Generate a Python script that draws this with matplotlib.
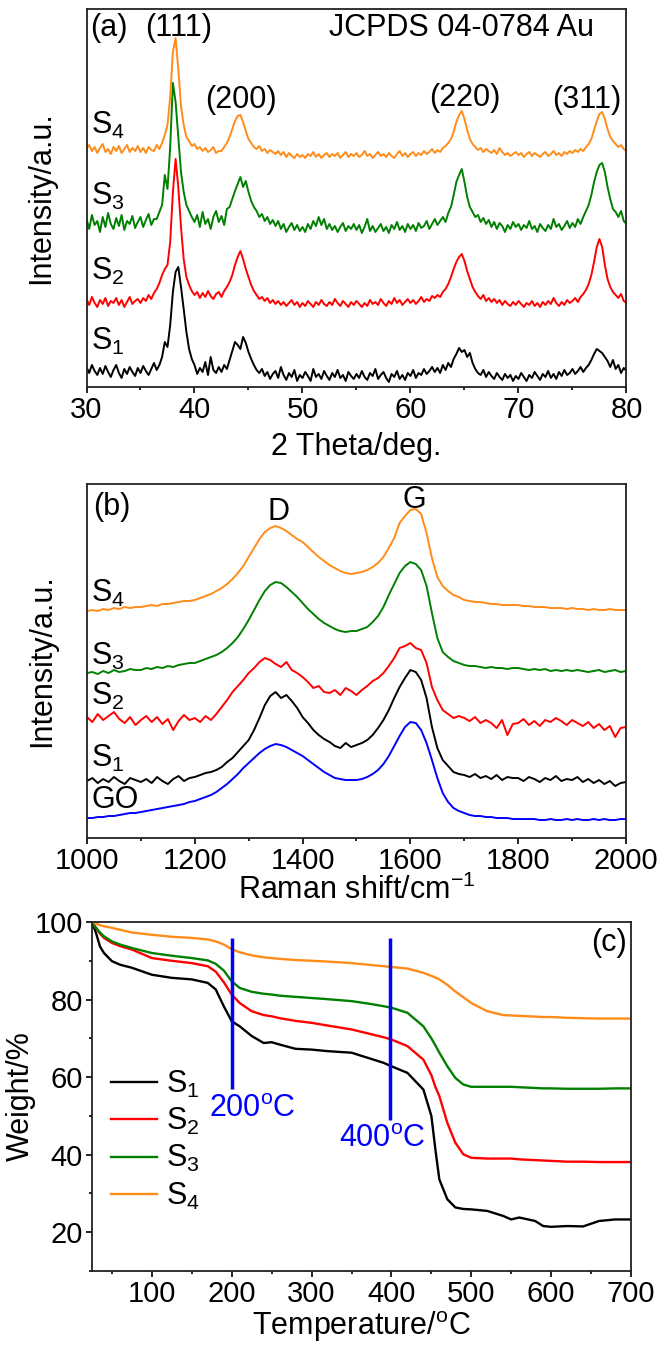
import numpy as np
import matplotlib
matplotlib.use('Agg')
import matplotlib.pyplot as plt
from matplotlib.ticker import MultipleLocator

plt.rcParams['font.family'] = ['Liberation Sans', 'DejaVu Sans']
plt.rcParams['mathtext.fontset'] = 'custom'
plt.rcParams['mathtext.rm'] = 'Liberation Sans'
plt.rcParams['mathtext.it'] = 'Liberation Sans'
plt.rcParams['mathtext.bf'] = 'Liberation Sans'

# ---------------- (a) XRD, 2theta 30..80 step 0.25, intensity in offset units
two_theta = np.linspace(30, 80, 201)
xrd_s4 = [238, 242, 236, 240, 234, 239, 243, 235, 238, 233,
          240, 236, 241, 234, 238, 242, 235, 239, 236, 241,
          235, 239, 234, 240, 237, 236, 242, 238, 244, 252,
          262, 290, 335, 349, 318, 281, 262, 250, 246, 241,
          243, 238, 240, 236, 239, 235, 237, 240, 234, 236,
          236, 240, 244, 250, 258, 266, 271, 272, 265, 256,
          248, 244, 240, 238, 241, 236, 238, 234, 237, 235,
          233, 236, 232, 235, 230, 234, 231, 229, 233, 230,
          232, 229, 233, 231, 235, 230, 233, 229, 232, 234,
          230, 233, 231, 234, 229, 232, 235, 230, 233, 231,
          234, 230, 232, 236, 231, 233, 229, 232, 235, 231,
          233, 230, 234, 231, 229, 233, 236, 231, 234, 230,
          233, 235, 231, 234, 232, 236, 233, 235, 238, 234,
          237, 235, 239, 241, 244, 248, 255, 265, 272, 276,
          268, 257, 248, 243, 240, 237, 239, 235, 238, 236,
          234, 237, 233, 239, 235, 232, 234, 231, 233, 235,
          232, 234, 230, 233, 235, 231, 234, 232, 230, 233,
          235, 231, 233, 236, 232, 234, 231, 235, 233, 236,
          234, 237, 235, 238, 236, 240, 243, 248, 257, 266,
          273, 275, 268, 258, 250, 246, 243, 240, 242, 238,
          236]
xrd_s3 = [168, 158, 172, 162, 166, 155, 170, 160, 174, 163,
          158, 169, 161, 172, 157, 166, 163, 171, 159, 165,
          170, 160, 167, 173, 162, 168, 168, 175, 182, 212,
          198, 240, 304, 285, 250, 215, 195, 182, 176, 170,
          165, 172, 160, 175, 163, 168, 158, 170, 176, 165,
          171, 162, 178, 180, 188, 196, 203, 210, 200, 206,
          195, 186, 180, 176, 170, 173, 166, 170, 163, 167,
          161, 166, 158, 163, 155, 160, 164, 157, 162, 156,
          160, 155, 163, 158, 166, 161, 170, 162, 168, 158,
          163, 157, 161, 155, 160, 164, 156, 161, 158, 163,
          157, 162, 154, 160, 168, 156, 161, 155, 159, 163,
          156, 160, 154, 162, 158, 165, 157, 161, 155, 163,
          158, 162, 156, 164, 159, 161, 166, 158, 163, 168,
          162, 166, 170, 165, 174, 180, 192, 205, 212, 218,
          205, 190, 180, 175, 170, 172, 165, 169, 163, 167,
          160, 165, 158, 164, 161, 155, 162, 158, 165, 160,
          163, 157, 162, 159, 166, 158, 161, 155, 163, 159,
          156, 162, 158, 168, 160, 163, 157, 161, 166, 159,
          164, 160, 168, 163, 170, 176, 182, 192, 205, 215,
          222, 224, 215, 200, 188, 178, 175, 170, 176, 166,
          163]
xrd_s2 = [88, 82, 90, 84, 80, 87, 83, 89, 81, 86,
          84, 89, 82, 87, 80, 85, 90, 83, 86, 88,
          84, 89, 86, 92, 88, 94, 98, 104, 112, 118,
          122, 145, 195, 228, 200, 160, 128, 110, 102, 96,
          92, 95, 89, 94, 90, 96, 91, 88, 93, 95,
          90, 96, 100, 105, 112, 122, 130, 136, 128, 118,
          110, 102, 96, 92, 88, 90, 86, 89, 84, 87,
          83, 86, 82, 85, 81, 84, 87, 82, 85, 80,
          84, 81, 86, 83, 80, 85, 82, 87, 83, 81,
          85, 82, 88, 84, 81, 86, 83, 80, 85, 82,
          86, 83, 80, 84, 81, 87, 83, 85, 82, 88,
          84, 81, 86, 83, 89, 84, 87, 82, 85, 88,
          84, 87, 83, 86, 90, 85, 88, 86, 91, 89,
          92, 90, 95, 98, 103, 110, 118, 125, 130, 133,
          126, 116, 108, 100, 95, 91, 88, 92, 86, 89,
          85, 88, 84, 87, 82, 86, 83, 81, 85, 82,
          86, 83, 80, 84, 82, 86, 81, 84, 80, 85,
          82, 86, 83, 89, 84, 81, 85, 82, 87, 84,
          86, 89, 85, 90, 93, 97, 103, 112, 125, 140,
          148, 140, 122, 108, 100, 95, 92, 89, 93, 86,
          84]
xrd_s1 = [20, 14, 22, 16, 12, 19, 13, 21, 15, 10,
          17, 22, 14, 9, 18, 13, 20, 15, 11, 19,
          14, 21, 16, 12, 18, 24, 17, 22, 30, 45,
          40, 62, 95, 115, 120, 100, 78, 55, 38, 28,
          22, 13, 19, 15, 25, 12, 30, 17, 14, 20,
          15, 22, 18, 27, 36, 45, 42, 38, 50, 44,
          35, 28, 22, 17, 14, 18, 11, 15, 8, 13,
          16, 9, 20, 12, 7, 14, 10, 17, 6, 12,
          9, 15, 11, 6, 18, 10, 13, 8, 16, 11,
          7, 14, 10, 17, 9, 12, 6, 15, 11, 8,
          13, 9, 16, 10, 7, 14, 11, 18, 8, 12,
          15, 9, 5, 13, 10, 16, 8, 12, 7, 14,
          11, 17, 9, 14, 12, 18, 13, 16, 20, 15,
          19, 14, 22, 17, 24, 20, 28, 33, 39, 35,
          37, 30, 34, 24, 18, 14, 12, 17, 10, 15,
          11, 8, 14, 10, 7, 13, 9, 12, 6, 11,
          8, 14, 10, 6, 12, 9, 15, 11, 7, 13,
          10, 16, 9, 13, 8, 15, 11, 17, 12, 14,
          18, 13, 16, 20, 15, 19, 22, 27, 33, 38,
          36, 34, 30, 26, 20, 27, 18, 22, 14, 19,
          16]

# ---------------- (b) Raman, 1000..2000 step 10
raman_shift = np.linspace(1000, 2000, 101)
raman_go = [20, 20, 21, 21, 22, 22, 23, 24, 25, 25,
            26, 27, 28, 29, 30, 31, 32, 33, 34, 36,
            37, 39, 41, 43, 46, 50, 54, 59, 64, 70,
            75, 80, 85, 89, 92, 94, 93, 91, 88, 85,
            82, 78, 74, 70, 66, 63, 60, 59, 58, 58,
            58, 59, 61, 64, 68, 74, 82, 92, 102, 111,
            116, 115, 108, 95, 78, 60, 45, 36, 30, 27,
            25, 23, 22, 22, 21, 21, 20, 20, 20, 19,
            19, 19, 19, 19, 18, 18, 19, 18, 18, 19,
            18, 19, 18, 18, 19, 18, 19, 18, 18, 19, 19]
raman_s1 = [57, 60, 55, 59, 56, 61, 57, 54, 60, 58,
            56, 59, 55, 61, 57, 54, 59, 62, 57, 60,
            61, 63, 65, 66, 68, 71, 76, 80, 86, 92,
            98, 108, 120, 133, 142, 146, 140, 143, 137, 130,
            121, 115, 108, 103, 99, 96, 92, 90, 95, 91,
            93, 95, 98, 103, 110, 118, 128, 140, 151, 160,
            168, 166, 158, 140, 111, 90, 78, 72, 66, 64,
            63, 61, 64, 60, 62, 59, 63, 58, 61, 60,
            60, 57, 61, 59, 56, 60, 58, 62, 57, 59,
            58, 61, 56, 59, 55, 58, 54, 57, 52, 55, 56]
raman_s2 = [121, 116, 124, 118, 122, 126, 119, 115, 121, 113,
            118, 122, 116, 121, 114, 119, 108, 117, 123, 118,
            120, 116, 122, 118, 124, 131, 138, 146, 152, 158,
            165, 170, 176, 180, 178, 174, 171, 176, 168, 165,
            161, 156, 150, 152, 146, 145, 148, 143, 150, 147,
            143, 148, 152, 157, 160, 165, 172, 180, 190, 192,
            195, 190, 188, 175, 151, 138, 128, 124, 120, 122,
            120, 117, 121, 115, 118, 115, 110, 118, 103, 114,
            115, 119, 113, 117, 112, 118, 116, 120, 117, 113,
            118, 115, 112, 116, 110, 114, 108, 112, 101, 110, 111]
raman_s3 = [165, 166, 164, 167, 165, 168, 166, 167, 169, 168,
            168, 170, 169, 171, 170, 172, 171, 173, 174, 175,
            175, 177, 179, 181, 183, 186, 190, 195, 201, 209,
            218, 228, 238, 247, 253, 256, 255, 251, 246, 241,
            235, 229, 224, 219, 215, 212, 209, 207, 206, 207,
            207, 209, 211, 216, 222, 231, 243, 254, 265, 272,
            276, 274, 268, 252, 225, 200, 186, 181, 177, 175,
            173, 172, 172, 171, 170, 171, 170, 170, 169, 170,
            170, 169, 168, 169, 168, 169, 167, 168, 167, 168,
            167, 168, 167, 166, 167, 168, 166, 167, 168, 166, 167]
raman_s4 = [227, 228, 227, 229, 228, 230, 229, 231, 230, 231,
            231, 232, 233, 232, 234, 234, 235, 236, 237, 237,
            238, 240, 242, 244, 247, 250, 254, 259, 265, 272,
            281, 290, 299, 306, 310, 312, 310, 307, 303, 299,
            296, 291, 286, 281, 277, 273, 270, 267, 265, 264,
            265, 266, 268, 271, 275, 281, 290, 300, 315, 322,
            328, 329, 324, 305, 280, 261, 252, 247, 243, 241,
            238, 237, 236, 236, 235, 234, 234, 233, 233, 233,
            233, 232, 232, 231, 231, 231, 230, 230, 230, 229,
            230, 229, 229, 228, 229, 228, 228, 229, 228, 228, 228]

# ---------------- (c) TGA
temp = [25, 30, 35, 40, 50, 60, 75, 100, 125, 150, 170, 180, 190, 200, 210,
        225, 240, 250, 260, 280, 300, 320, 350, 370, 390, 400, 420, 440, 450,
        455, 460, 470, 480, 490, 500, 520, 540, 550, 560, 580, 590, 600, 620,
        640, 660, 680, 700]
tga_s1 = [100, 97.2, 93.7, 92.0, 89.9, 89.0, 88.2, 86.4, 85.6, 85.2, 84.3, 82.6,
          78.3, 74.4, 73.1, 70.6, 68.8, 69.0, 68.4, 67.3, 67.1, 66.7, 66.3, 65.0,
          63.7, 62.8, 61.1, 56.8, 50.0, 41.4, 33.6, 28.5, 26.4, 26.0, 25.9, 25.5,
          24.2, 23.3, 23.8, 22.9, 21.6, 21.4, 21.6, 21.5, 22.9, 23.3, 23.3]
tga_s2 = [100, 98.5, 97.0, 95.9, 94.6, 93.8, 92.9, 90.7, 90.0, 89.4, 88.6, 87.2,
          84.5, 81.3, 79.1, 77.0, 76.0, 75.7, 75.2, 74.5, 74.0, 73.3, 72.3, 71.3,
          70.3, 69.7, 68.0, 64.5, 60.5, 57.5, 55.1, 48.2, 43.1, 40.1, 39.2, 39.0,
          39.0, 39.0, 38.8, 38.6, 38.5, 38.4, 38.2, 38.2, 38.1, 38.1, 38.1]
tga_s3 = [100, 98.5, 97.3, 96.3, 95.0, 94.2, 93.3, 92.0, 91.3, 90.7, 90.1, 89.2,
          87.5, 84.7, 83.0, 82.0, 81.5, 81.3, 81.0, 80.7, 80.4, 80.1, 79.6, 79.0,
          78.3, 77.9, 76.6, 73.1, 70.0, 68.2, 66.3, 62.8, 59.8, 58.1, 57.5, 57.5,
          57.5, 57.5, 57.4, 57.2, 57.1, 57.1, 57.0, 57.0, 57.0, 57.1, 57.1]
tga_s4 = [100, 99.6, 99.2, 98.9, 98.5, 98.0, 97.3, 96.7, 96.2, 95.9, 95.5, 95.0,
          94.2, 93.0, 92.2, 91.4, 90.9, 90.7, 90.5, 90.2, 90.0, 89.8, 89.4, 89.0,
          88.6, 88.4, 88.0, 86.9, 86.1, 85.7, 85.2, 83.8, 82.1, 80.6, 79.1, 77.0,
          76.0, 75.9, 75.8, 75.6, 75.5, 75.5, 75.3, 75.2, 75.1, 75.1, 75.1]
mark_temps = [200, 398]
mark_top = [96, 96]
mark_bottom = [57, 49]

colors = {'S1': 'black', 'S2': '#ff0000', 'S3': '#008000', 'S4': '#ff8c1a', 'GO': '#0000ff'}
FS = 22
TFS = 21
LW = 1.4


def style(ax):
    for sp in ax.spines.values():
        sp.set_linewidth(1.3)
        sp.set_color('#222222')
    ax.tick_params(axis='both', which='major', direction='out', length=4.5, width=1.2,
                   labelsize=TFS, pad=2, top=False, right=False)
    ax.tick_params(axis='both', which='minor', direction='out', length=2.5, width=1.2,
                   top=False, right=False)


def put_xlabel(ax, text, ybase):
    # place x label by its baseline, in axes fraction
    ax.set_xlabel(text, fontsize=FS)
    ax.xaxis.label.set_va('baseline')
    ax.xaxis.set_label_coords(0.5, ybase)


fig = plt.figure(figsize=(6.69, 13.46), dpi=100)

# (a)
ax1 = fig.add_axes([0.1293, 0.7125, 0.8071, 0.2808])
ax1.plot(two_theta, xrd_s1, color=colors['S1'], lw=LW)
ax1.plot(two_theta, xrd_s2, color=colors['S2'], lw=LW)
ax1.plot(two_theta, xrd_s3, color=colors['S3'], lw=LW)
ax1.plot(two_theta, xrd_s4, color=colors['S4'], lw=LW)
ax1.set_xlim(30, 80)
ax1.set_ylim(0, 378)
ax1.set_yticks([])
ax1.xaxis.set_major_locator(MultipleLocator(10))
ax1.xaxis.set_minor_locator(MultipleLocator(5))
style(ax1)
put_xlabel(ax1, '2 Theta/deg.', -0.18)
ax1.set_ylabel('Intensity/a.u.', fontsize=FS)
ax1.yaxis.set_label_coords(-0.056, 0.5)
ax1.text(32.1, 359, '(a)', fontsize=FS, ha='center', va='center')
ax1.text(38.5, 359, '(111)', fontsize=FS, ha='center', va='center')
ax1.text(64.7, 359, 'JCPDS 04-0784 Au', fontsize=FS, ha='center', va='center')
ax1.text(44.3, 287, '(200)', fontsize=FS, ha='center', va='center')
ax1.text(65.0, 289, '(220)', fontsize=FS, ha='center', va='center')
ax1.text(76.3, 287, '(311)', fontsize=FS, ha='center', va='center')
for lab, yy in [('S$_4$', 262), ('S$_3$', 191), ('S$_2$', 116), ('S$_1$', 46)]:
    ax1.text(30.45, yy, lab, fontsize=FS, ha='left', va='center')

# (b)
ax2 = fig.add_axes([0.1300, 0.3774, 0.8057, 0.2630])
ax2.plot(raman_shift, raman_go, color=colors['GO'], lw=LW)
ax2.plot(raman_shift, raman_s1, color=colors['S1'], lw=LW)
ax2.plot(raman_shift, raman_s2, color=colors['S2'], lw=LW)
ax2.plot(raman_shift, raman_s3, color=colors['S3'], lw=LW)
ax2.plot(raman_shift, raman_s4, color=colors['S4'], lw=LW)
ax2.set_xlim(1000, 2000)
ax2.set_ylim(0, 354)
ax2.set_yticks([])
ax2.xaxis.set_major_locator(MultipleLocator(200))
ax2.xaxis.set_minor_locator(MultipleLocator(100))
style(ax2)
put_xlabel(ax2, 'Raman shift/cm$^{-1}$', -0.172)
ax2.set_ylabel('Intensity/a.u.', fontsize=FS)
ax2.yaxis.set_label_coords(-0.056, 0.5)
ax2.text(1046, 331, '(b)', fontsize=FS, ha='center', va='center')
ax2.text(1356, 326, 'D', fontsize=FS, ha='center', va='center')
ax2.text(1607, 338, 'G', fontsize=FS, ha='center', va='center')
for lab, yy in [('S$_4$', 245), ('S$_3$', 182), ('S$_2$', 142), ('S$_1$', 80)]:
    ax2.text(1008, yy, lab, fontsize=FS, ha='left', va='center')
ax2.text(1008, 38, 'GO', fontsize=FS, ha='left', va='center')

# (c)
ax3 = fig.add_axes([0.1375, 0.0557, 0.8057, 0.2593])
ax3.plot(temp, tga_s1, color=colors['S1'], lw=LW + 0.3, label='S$_1$')
ax3.plot(temp, tga_s2, color=colors['S2'], lw=LW + 0.3, label='S$_2$')
ax3.plot(temp, tga_s3, color=colors['S3'], lw=LW + 0.3, label='S$_3$')
ax3.plot(temp, tga_s4, color=colors['S4'], lw=LW + 0.3, label='S$_4$')
ax3.vlines(mark_temps, mark_bottom, mark_top, color=colors['GO'], lw=2.5)
ax3.set_xlim(25, 700)
ax3.set_ylim(10, 100)
ax3.set_xticks([100, 200, 300, 400, 500, 600, 700])
ax3.set_yticks([20, 40, 60, 80, 100])
ax3.xaxis.set_minor_locator(MultipleLocator(50))
ax3.yaxis.set_minor_locator(MultipleLocator(10))
style(ax3)
put_xlabel(ax3, 'Temperature/$^{\\rm o}$C', -0.183)
ax3.set_ylabel('Weight/%', fontsize=FS)
ax3.yaxis.set_label_coords(-0.105, 0.5)
ax3.text(226, 51.7, '200$^{\\rm o}$C', fontsize=FS, color=colors['GO'], ha='center', va='center')
ax3.text(389, 44, '400$^{\\rm o}$C', fontsize=FS, color=colors['GO'], ha='center', va='center')
ax3.text(672, 94.6, '(c)', fontsize=FS, ha='center', va='center')
ax3.legend(loc='center left', bbox_to_anchor=(0.035, 0.375), frameon=False, fontsize=FS,
           handlelength=1.5, handletextpad=0.3, labelspacing=0.2, borderaxespad=0, borderpad=0)

fig.savefig('out.png', dpi=100)
